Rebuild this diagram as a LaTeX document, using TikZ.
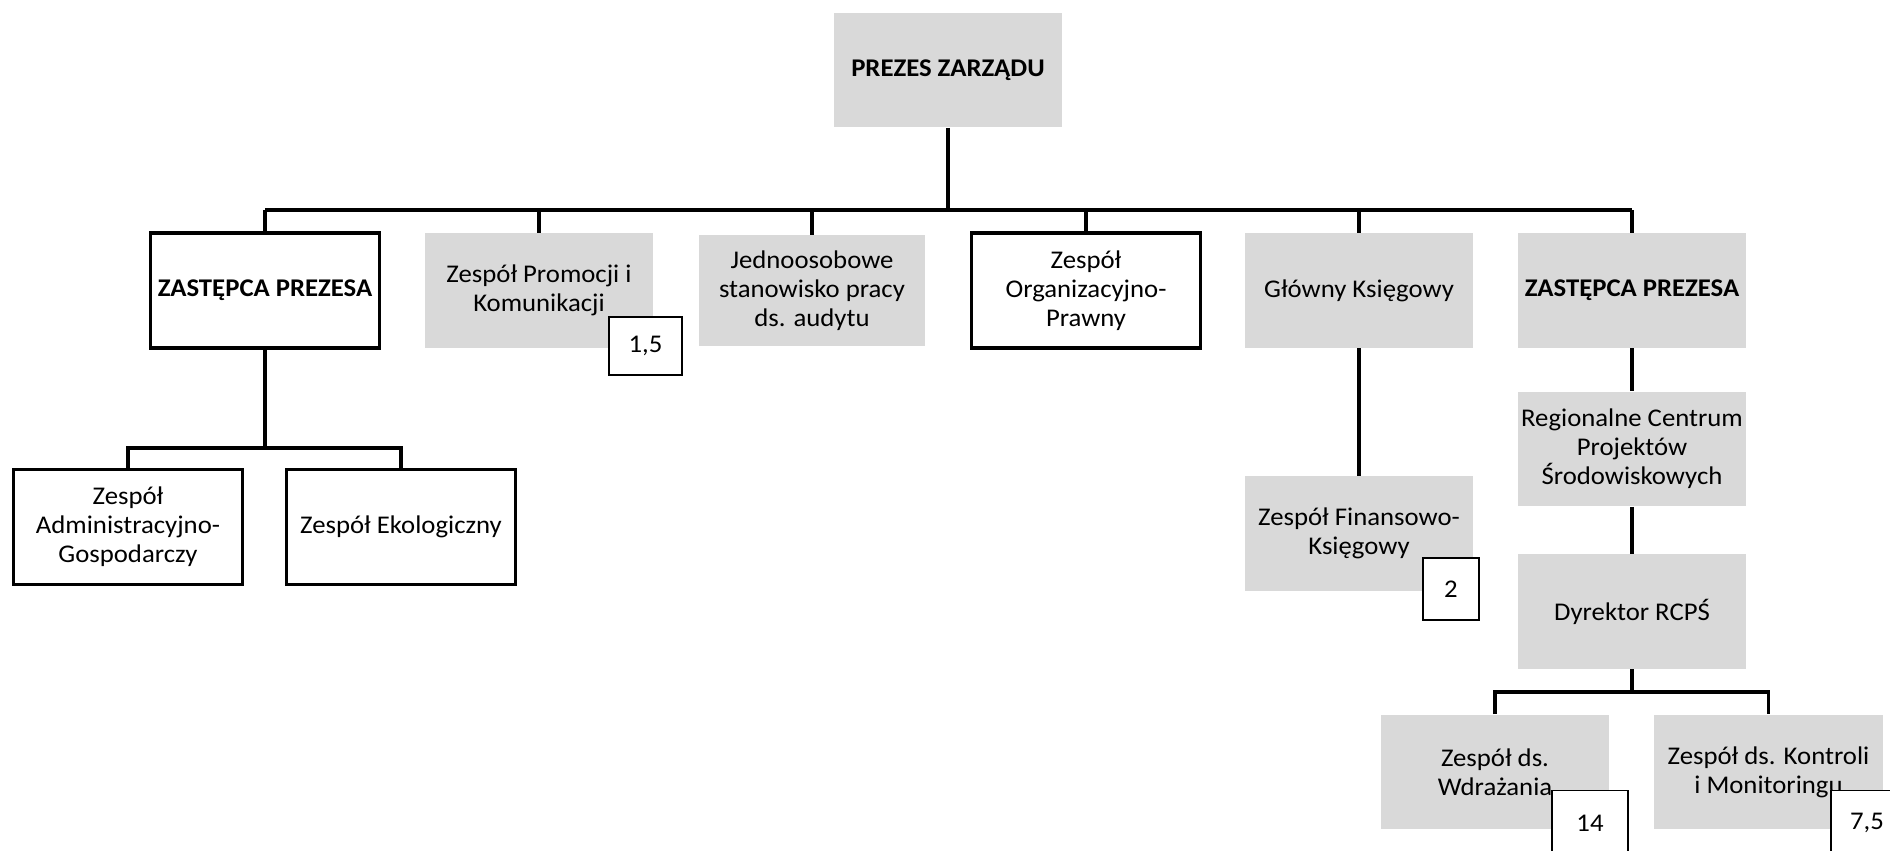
\documentclass[tikz,border=0pt]{standalone}
\usepackage{fontspec}
\setmainfont{Carlito}[FakeStretch=1.05]
\definecolor{boxgray}{RGB}{217,217,217}
\tikzset{
  unit/.style={minimum width=4.58cm,minimum height=2.3cm,inner sep=0pt,align=center,
    font=\fontsize{14.5}{16.6}\selectfont},
  greybox/.style={unit,fill=boxgray},
  framebox/.style={unit,fill=white,draw,line width=1.8pt},
  badge/.style={draw,fill=white,line width=0.9pt,inner sep=0pt,align=center,
    font=\fontsize{14.5}{16.6}\selectfont},
  conn/.style={line width=2pt}
}
\begin{document}
\begin{tikzpicture}[x=0.02cm,y=-0.02cm]
            \useasboundingbox (0,0) rectangle (1890,851);
            \clip (0,0) rectangle (1890,851);
            % top
            \node[greybox] (prezes) at (948,70) {\textbf{PREZES ZARZĄDU}};
            \coordinate (bar) at (0,210);
            % first row
            \node[framebox] (zl) at (265,290.5) {\textbf{ZASTĘPCA PREZESA}};
            \node[greybox] (prom) at (539,290.5) {Zespół Promocji i\\Komunikacji};
            \node[greybox,minimum width=4.54cm,minimum height=2.22cm] (jedn) at (812,290.5) {Jednoosobowe\\stanowisko pracy\\ds. audytu};
            \node[framebox] (org) at (1086,290.5) {Zespół\\Organizacyjno-\\Prawny};
            \node[greybox] (glow) at (1359,290.5) {Główny Księgowy};
            \node[greybox] (zr) at (1632,290.5) {\textbf{ZASTĘPCA PREZESA}};
            \draw[conn] (prezes.south) -- (prezes.south |- bar);
            \draw[conn] (zl.north |- bar) -- (zr.north |- bar);
            \foreach \n in {zl,prom,jedn,org,glow,zr}
              \draw[conn] (\n.north) -- (\n.north |- bar);
            % left branch
            \coordinate (barl) at (0,448);
            \node[framebox] (adm) at (128,527) {Zespół\\Administracyjno-\\Gospodarczy};
            \node[framebox] (eko) at (401,527) {Zespół Ekologiczny};
            \draw[conn] (zl.south) -- (zl.south |- barl);
            \draw[conn] (adm.north) |- (barl -| eko.north) -- (eko.north);
            % finance
            \node[greybox] (fin) at (1359,533.5) {Zespół Finansowo-\\Księgowy};
            \draw[conn] (glow.south) -- (fin.north);
            % right branch
            \node[greybox] (reg) at (1632,449) {Regionalne Centrum\\Projektów\\Środowiskowych};
            \node[greybox] (dyr) at (1632,611.5) {Dyrektor RCPŚ};
            \coordinate (barr) at (0,692);
            \node[greybox] (wdr) at (1495,772) {Zespół ds.\\Wdrażania};
            \node[greybox] (kon) at (1768.5,772) {Zespół ds. Kontroli\\i Monitoringu};
            \draw[conn] (zr.south) -- (reg.north);
            \draw[conn] (reg.south) -- (dyr.north);
            \draw[conn] (dyr.south) -- (dyr.south |- barr);
            \draw[conn] (wdr.north) |- (barr -| kon.north) -- (kon.north);
            % staff numbers
            \node[badge,minimum width=1.46cm,minimum height=1.16cm] (n1) at (645.5,346) {1,5};
            \node[badge,minimum width=1.12cm,minimum height=1.24cm] (n2) at (1451,589) {2};
            \node[badge,minimum width=1.52cm,minimum height=1.3cm] (n3) at (1590,823) {14};
            \node[badge,minimum width=1.45cm,minimum height=1.3cm] (n4) at (1867,823) {7,5};
        \end{tikzpicture}
\end{document}
